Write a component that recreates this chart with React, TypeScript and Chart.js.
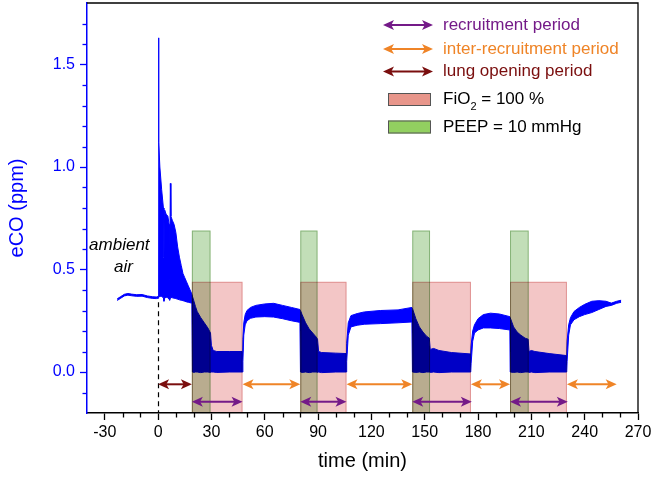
import React, { useEffect, useRef } from "react";
import { Chart, registerables } from "chart.js";

Chart.register(...registerables);

// ---------- axis ticks ----------
const xTicks = [-30, 0, 30, 60, 90, 120, 150, 180, 210, 240, 270];
const xMinorTicks = [-20, -10, 10, 20, 40, 50, 70, 80, 100, 110, 130, 140, 160, 170, 190, 200, 220, 230, 250, 260];
const yTicks = [0, 0.5, 1.0, 1.5];
const yMinorTicks = [-0.1, 0.1, 0.2, 0.3, 0.4, 0.6, 0.7, 0.8, 0.9, 1.1, 1.2, 1.3, 1.4, 1.6, 1.7];

// ---------- eCO signal envelope (min) / (ppm) ----------
const time = [
  -23, -21, -19, -17, -15, -12, -9, -6, -3, -1, 0,
  0.25, 0.45, 1.0, 2.0, 3.0, 3.3, 3.7, 4.5, 5.5, 6.2, 6.5, 6.9, 7.2, 8, 9, 10, 11, 12, 13, 14, 15, 16, 17, 18, 19,
  19.3, 20, 21, 22, 24, 26, 28, 29.5, 30, 31, 33, 40, 47.5,
  47.7, 48.2, 49, 50, 52, 55, 60, 65, 70, 75, 79.8,
  80.1, 81, 83, 85, 87, 89, 89.7, 90.3, 92, 100, 105.9,
  106.1, 107, 108.5, 112, 116, 125, 135, 142.8,
  143.1, 145, 147, 149, 151, 152.6, 153.1, 155, 158, 165, 175.9,
  176.1, 177, 178, 180, 183, 187, 192, 197.9,
  198.1, 200, 202, 204, 206.5, 208.2, 208.7, 210, 212, 220, 229.9,
  230.1, 231, 232, 234, 237, 240, 244, 248, 252, 255, 258, 260.5,
];
const eCOUpper = [
  0.357, 0.368, 0.379, 0.383, 0.380, 0.377, 0.378, 0.371, 0.367, 0.366, 0.368,
  1.63, 1.12, 1.0, 0.89, 0.80, 0.56, 0.79, 0.77, 0.76, 0.72, 0.45, 0.92, 0.76, 0.74, 0.72, 0.68, 0.61, 0.56, 0.52, 0.48, 0.46, 0.44, 0.42, 0.40, 0.38,
  0.37, 0.35, 0.32, 0.295, 0.265, 0.24, 0.215, 0.19, 0.13, 0.105, 0.1, 0.1, 0.1,
  0.16, 0.24, 0.28, 0.30, 0.315, 0.325, 0.332, 0.335, 0.325, 0.315, 0.305,
  0.30, 0.28, 0.24, 0.21, 0.19, 0.17, 0.16, 0.10, 0.095, 0.092, 0.09,
  0.14, 0.24, 0.275, 0.285, 0.293, 0.30, 0.303, 0.315,
  0.31, 0.26, 0.22, 0.195, 0.175, 0.165, 0.11, 0.115, 0.105, 0.095, 0.088,
  0.13, 0.20, 0.23, 0.26, 0.28, 0.287, 0.283, 0.27,
  0.265, 0.22, 0.195, 0.18, 0.165, 0.16, 0.10, 0.105, 0.10, 0.09, 0.08,
  0.15, 0.23, 0.265, 0.295, 0.315, 0.33, 0.345, 0.348, 0.345, 0.336, 0.345, 0.35,
];
const eCOLower = [
  0.349, 0.360, 0.371, 0.375, 0.372, 0.369, 0.370, 0.363, 0.359, 0.358, 0.360,
  0.362, 0.365, 0.37, 0.368, 0.362, 0.345, 0.36, 0.365, 0.362, 0.355, 0.35, 0.36, 0.365, 0.362, 0.36, 0.358, 0.355, 0.352, 0.35, 0.348, 0.345, 0.342, 0.34, 0.338, 0.335,
  0.0, -0.002, 0.0, 0.0, -0.003, 0.0, 0.0, -0.002, 0.0, 0.0, -0.002, 0.0, 0.0,
  0.05, 0.18, 0.23, 0.25, 0.262, 0.268, 0.27, 0.268, 0.26, 0.25, 0.242,
  0.0, -0.002, 0.0, -0.003, 0.0, 0.0, -0.002, 0.0, -0.003, 0.0, 0.0,
  0.05, 0.18, 0.22, 0.228, 0.233, 0.236, 0.24, 0.244,
  0.0, -0.002, 0.0, -0.003, 0.0, 0.0, -0.002, 0.0, -0.003, 0.0, 0.0,
  0.04, 0.15, 0.19, 0.205, 0.215, 0.215, 0.212, 0.205,
  0.0, -0.002, 0.0, -0.003, 0.0, 0.0, -0.002, 0.0, -0.003, 0.0, 0.0,
  0.05, 0.18, 0.23, 0.255, 0.27, 0.28, 0.29, 0.305, 0.32, 0.325, 0.335, 0.34,
];

// ---------- periods ----------
const fio2Start = [19, 80, 143, 198];
const fio2End = [47.5, 106, 176, 230];
const fio2Top = 0.44;
const peepStart = [19, 80, 143, 198];
const peepEnd = [29.5, 89.7, 153, 208.5];
const peepTop = 0.69;

const lungStart = [0];
const lungEnd = [19];
const interStart = [47.5, 106, 176, 230];
const interEnd = [80, 143, 198, 258];
const upperArrowY = -0.06;
const recruitStart = [19, 80, 143, 198];
const recruitEnd = [47.5, 106, 176.5, 230.5];
const lowerArrowY = -0.145;

const dashTime = 0;
const dashTop = 0.34;

const FONT = '"Liberation Sans", Arial, sans-serif';
const BLUE = "#0000ff";
const PURPLE = "#741a88";
const ORANGE = "#ef8427";
const DARKRED = "#7a0e0e";
const PINK = "rgb(243,198,198)";
const GREEN = "rgb(194,222,184)";

function drawArrow(ctx: CanvasRenderingContext2D, x0: number, x1: number, yy: number, color: string) {
  const hl = 11;
  const hw = 5;
  ctx.save();
  ctx.strokeStyle = color;
  ctx.fillStyle = color;
  ctx.lineWidth = 2;
  ctx.beginPath();
  ctx.moveTo(x0 + hl * 0.7, yy);
  ctx.lineTo(x1 - hl * 0.7, yy);
  ctx.stroke();
  ctx.beginPath();
  ctx.moveTo(x0, yy);
  ctx.lineTo(x0 + hl, yy - hw);
  ctx.lineTo(x0 + hl * 0.75, yy);
  ctx.lineTo(x0 + hl, yy + hw);
  ctx.closePath();
  ctx.fill();
  ctx.beginPath();
  ctx.moveTo(x1, yy);
  ctx.lineTo(x1 - hl, yy - hw);
  ctx.lineTo(x1 - hl * 0.75, yy);
  ctx.lineTo(x1 - hl, yy + hw);
  ctx.closePath();
  ctx.fill();
  ctx.restore();
}

const overlayPlugin = {
  id: "overlay",
  afterDatasetsDraw(chart: any) {
    const { ctx, chartArea, scales } = chart;
    const x = scales.x;
    const y = scales.y;
    ctx.save();
    ctx.beginPath();
    ctx.rect(chartArea.left, chartArea.top, chartArea.right - chartArea.left, chartArea.bottom - chartArea.top);
    ctx.clip();

    const yb = y.getPixelForValue(y.min);
    ctx.globalCompositeOperation = "multiply";
    // PEEP boxes
    peepStart.forEach((s, i) => {
      const x0 = x.getPixelForValue(s);
      const x1 = x.getPixelForValue(peepEnd[i]);
      const yt = y.getPixelForValue(peepTop);
      ctx.fillStyle = GREEN;
      ctx.fillRect(x0, yt, x1 - x0, yb - yt);
      ctx.strokeStyle = "rgb(175,205,165)";
      ctx.lineWidth = 1;
      ctx.strokeRect(x0 + 0.5, yt + 0.5, x1 - x0 - 1, yb - yt);
    });
    // FiO2 boxes
    fio2Start.forEach((s, i) => {
      const x0 = x.getPixelForValue(s);
      const x1 = x.getPixelForValue(fio2End[i]);
      const yt = y.getPixelForValue(fio2Top);
      ctx.fillStyle = PINK;
      ctx.fillRect(x0, yt, x1 - x0, yb - yt);
      ctx.strokeStyle = "rgb(235,185,185)";
      ctx.lineWidth = 1;
      ctx.strokeRect(x0 + 0.5, yt + 0.5, x1 - x0 - 1, yb - yt);
    });
    ctx.globalCompositeOperation = "source-over";

    // dashed line at t = 0
    ctx.strokeStyle = "#000";
    ctx.lineWidth = 1.2;
    ctx.setLineDash([5, 4]);
    ctx.beginPath();
    const xd = Math.round(x.getPixelForValue(dashTime)) + 0.5;
    ctx.moveTo(xd, y.getPixelForValue(dashTop));
    ctx.lineTo(xd, yb);
    ctx.stroke();
    ctx.setLineDash([]);

    // arrows
    const ya = y.getPixelForValue(upperArrowY);
    const yl = y.getPixelForValue(lowerArrowY);
    lungStart.forEach((s, i) => drawArrow(ctx, x.getPixelForValue(s), x.getPixelForValue(lungEnd[i]), ya, DARKRED));
    interStart.forEach((s, i) => drawArrow(ctx, x.getPixelForValue(s), x.getPixelForValue(interEnd[i]), ya, ORANGE));
    recruitStart.forEach((s, i) => drawArrow(ctx, x.getPixelForValue(s), x.getPixelForValue(recruitEnd[i]), yl, PURPLE));

    // ambient air label
    ctx.fillStyle = "#000";
    ctx.font = `italic 17px ${FONT}`;
    ctx.textAlign = "center";
    ctx.textBaseline = "middle";
    ctx.fillText("ambient", x.getPixelForValue(-21.8), y.getPixelForValue(0.619));
    ctx.fillText("air", x.getPixelForValue(-19.5), y.getPixelForValue(0.511));
    ctx.restore();
  },
  afterDraw(chart: any) {
    const { ctx, chartArea, scales } = chart;
    const x = scales.x;
    const y = scales.y;
    ctx.save();
    // frame top/right
    ctx.strokeStyle = "#000";
    ctx.lineWidth = 1.3;
    ctx.beginPath();
    ctx.moveTo(chartArea.left, chartArea.top);
    ctx.lineTo(chartArea.right, chartArea.top);
    ctx.lineTo(chartArea.right, chartArea.bottom);
    ctx.stroke();

    // minor ticks
    ctx.lineWidth = 1.3;
    ctx.strokeStyle = "#000";
    xMinorTicks.forEach((v) => {
      const px = Math.round(x.getPixelForValue(v)) + 0.5;
      ctx.beginPath();
      ctx.moveTo(px, chartArea.bottom);
      ctx.lineTo(px, chartArea.bottom + 4.5);
      ctx.stroke();
    });
    ctx.strokeStyle = BLUE;
    yMinorTicks.forEach((v) => {
      const py = Math.round(y.getPixelForValue(v)) + 0.5;
      ctx.beginPath();
      ctx.moveTo(chartArea.left, py);
      ctx.lineTo(chartArea.left - 4.5, py);
      ctx.stroke();
    });

    // legend
    const lx = chartArea.right - 255;
    const tx = chartArea.right - 195;
    const rows = [chartArea.top + 22, chartArea.top + 46, chartArea.top + 68.5, chartArea.top + 96.5, chartArea.top + 124];
    ctx.textAlign = "left";
    ctx.textBaseline = "middle";
    ctx.font = `17px ${FONT}`;
    drawArrow(ctx, lx, lx + 50, rows[0], PURPLE);
    ctx.fillStyle = PURPLE;
    ctx.fillText("recruitment period", tx, rows[0]);
    drawArrow(ctx, lx, lx + 50, rows[1], ORANGE);
    ctx.fillStyle = ORANGE;
    ctx.fillText("inter-recruitment period", tx, rows[1]);
    drawArrow(ctx, lx, lx + 50, rows[2], DARKRED);
    ctx.fillStyle = DARKRED;
    ctx.fillText("lung opening period", tx, rows[2]);

    ctx.lineWidth = 1;
    ctx.strokeStyle = "#555";
    ctx.fillStyle = "#e8968b";
    ctx.fillRect(lx + 5, rows[3] - 6.5, 43, 13);
    ctx.strokeRect(lx + 5.5, rows[3] - 6, 42, 12);
    ctx.fillStyle = "#000";
    ctx.fillText("FiO", tx, rows[3]);
    const w = ctx.measureText("FiO").width;
    ctx.font = `11px ${FONT}`;
    ctx.fillText("2", tx + w, rows[3] + 7);
    const w2 = ctx.measureText("2").width;
    ctx.font = `17px ${FONT}`;
    ctx.fillText(" = 100 %", tx + w + w2, rows[3]);

    ctx.fillStyle = "#92d060";
    ctx.fillRect(lx + 5, rows[4] - 6.5, 43, 13);
    ctx.strokeRect(lx + 5.5, rows[4] - 6, 42, 12);
    ctx.fillStyle = "#000";
    ctx.fillText("PEEP = 10 mmHg", tx, rows[4]);
    ctx.restore();
  },
};

export default function App() {
  const ref = useRef<HTMLCanvasElement>(null);
  useEffect(() => {
    const upper = time.map((t, i) => ({ x: t, y: eCOUpper[i] }));
    const lower = time.map((t, i) => ({ x: t, y: eCOLower[i] }));
    const chart = new Chart(ref.current as HTMLCanvasElement, {
      type: "line",
      data: {
        datasets: [
          {
            data: upper,
            borderColor: BLUE,
            borderWidth: 1,
            pointRadius: 0,
            tension: 0,
            fill: false,
          },
          {
            data: lower,
            borderColor: BLUE,
            borderWidth: 1,
            pointRadius: 0,
            tension: 0,
            backgroundColor: BLUE,
            fill: "-1",
          },
        ],
      },
      options: {
        responsive: false,
        devicePixelRatio: 1,
        animation: false,
        layout: { padding: { top: 3, right: 16, left: 0, bottom: 0 } },
        plugins: { legend: { display: false }, tooltip: { enabled: false } },
        scales: {
          x: {
            type: "linear",
            min: -40,
            max: 270,
            afterBuildTicks: (s: any) => {
              s.ticks = xTicks.map((v) => ({ value: v }));
            },
            afterFit: (s: any) => {
              s.height = 67;
              s.paddingLeft = 0;
              s.paddingRight = 0;
            },
            ticks: {
              color: "#000",
              font: { family: FONT, size: 16 },
              padding: 3,
              maxRotation: 0,
              autoSkip: false,
              callback: (v: any) => String(v),
            },
            grid: { drawOnChartArea: false, drawTicks: true, tickLength: 7, tickColor: "#000", tickWidth: 1.3 },
            border: { color: "#000", width: 1.5 },
            title: {
              display: true,
              text: "time (min)",
              color: "#000",
              font: { family: FONT, size: 20 },
              padding: { top: 0, bottom: 7 },
            },
          },
          y: {
            type: "linear",
            min: -0.2,
            max: 1.8,
            afterBuildTicks: (s: any) => {
              s.ticks = yTicks.map((v) => ({ value: v }));
            },
            afterFit: (s: any) => {
              s.width = 87;
              s.paddingTop = 0;
              s.paddingBottom = 0;
            },
            ticks: {
              color: BLUE,
              font: { family: FONT, size: 16 },
              padding: 5,
              callback: (v: any) => Number(v).toFixed(1),
            },
            grid: { drawOnChartArea: false, drawTicks: true, tickLength: 7, tickColor: BLUE, tickWidth: 1.3 },
            border: { color: BLUE, width: 1.5 },
            title: {
              display: true,
              text: "eCO (ppm)",
              color: BLUE,
              font: { family: FONT, size: 20 },
              padding: { top: 5, bottom: 0 },
            },
          },
        },
      },
      plugins: [overlayPlugin],
    } as any);
    return () => chart.destroy();
  }, []);
  return (
    <div style={{ position: "fixed", left: 0, top: 0, width: 654, height: 480, background: "#fff" }}>
      <canvas ref={ref} width={654} height={480} style={{ display: "block", width: 654, height: 480 }} />
    </div>
  );
}
